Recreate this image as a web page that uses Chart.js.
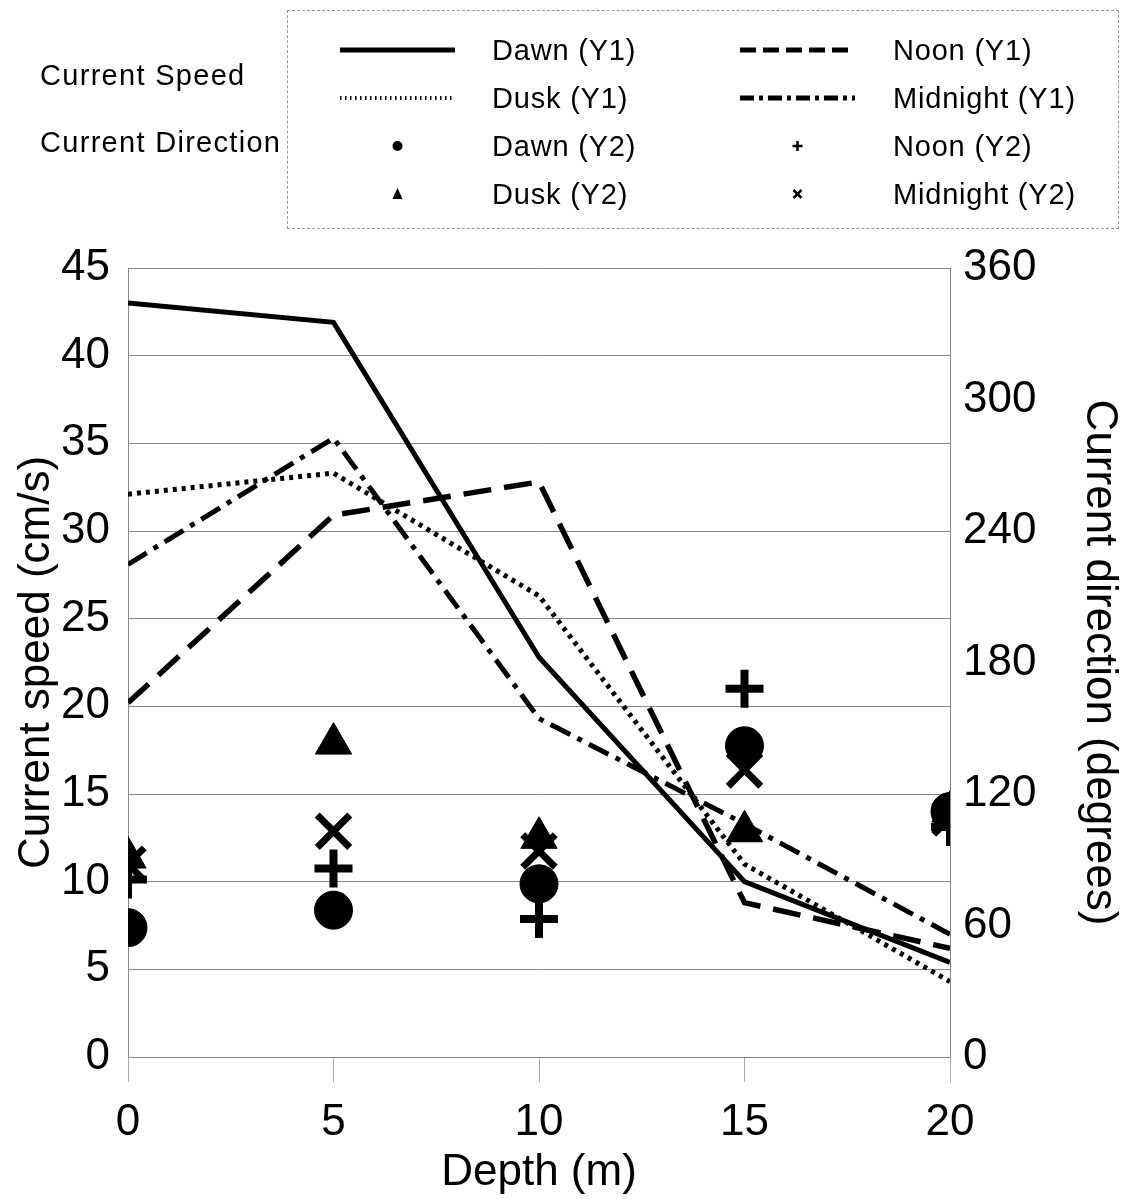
<!DOCTYPE html>
<html>
<head>
<meta charset="utf-8">
<script src="https://cdn.jsdelivr.net/npm/chart.js@4/dist/chart.umd.min.js"></script>
<style>
  body { margin: 0; background: #fff; font-family: "Liberation Sans", Arial, sans-serif; }
  #wrap { position: relative; width: 1130px; height: 1199px; }
  #chart { position: absolute; left: 0; top: 0; }
  .legend-box { position: absolute; left: 287px; top: 10px; width: 832px; height: 219px;
    border: 1px dashed #999; box-sizing: border-box; }
  .grp { position: absolute; left: 40px; font-size: 29px; letter-spacing: 1.3px; color: #000; line-height: 30px; }
  .item { position: absolute; font-size: 29px; letter-spacing: 0.8px; color: #000; line-height: 30px; }
  svg.sample { position: absolute; }
</style>
</head>
<body>
<div id="wrap">
  <canvas id="chart" width="1130" height="1199"></canvas>
  <div class="legend-box"></div>
  <div class="grp" style="top:60px">Current Speed</div>
  <div class="grp" style="top:127px">Current Direction</div>
  <div id="legend"></div>
</div>
<script>
// Current speed / direction by depth
const depths = [0, 5, 10, 15, 20];

// current speed (cm/s), left axis
const dawnSpeed = [43.0, 41.9, 22.8, 10.0, 5.4];
const noonSpeed = [20.2, 30.9, 32.8, 8.8, 6.2];
const duskSpeed = [32.1, 33.3, 26.3, 11.0, 4.3];
const midnightSpeed = [28.1, 35.3, 19.3, 13.3, 7.0];

// current direction (degrees), right axis
const dawnDir = [59, 67, 79, 142, 112];
const noonDir = [81, 86, 63, 168, 105];
const duskDir = [91, 143, 100, 103, 112];
const midnightDir = [88, 103, 94, 131, 109];

const speedTicks = [0, 5, 10, 15, 20, 25, 30, 35, 40, 45];
const dirTicks = [0, 60, 120, 180, 240, 300, 360];

const pts = vals => depths.map((d, i) => ({ x: d, y: vals[i] }));

function lineSet(label, vals, dash, width) {
    return {
        label: label,
        data: pts(vals),
        yAxisID: 'y',
        borderColor: '#000',
        borderWidth: width,
        borderDash: dash,
        pointRadius: 0,
        tension: 0,
        fill: false
    };
}

function markerSet(label, vals, style, radius, bw) {
    return {
        label: label,
        data: pts(vals),
        yAxisID: 'y1',
        showLine: false,
        pointStyle: style,
        pointRadius: radius,
        pointBorderWidth: bw,
        pointBackgroundColor: '#000',
        pointBorderColor: '#000'
    };
}

const font44 = { family: '"Liberation Sans", Arial, sans-serif', size: 44 };

const ctx = document.getElementById('chart').getContext('2d');
new Chart(ctx, {
    type: 'line',
    data: {
        datasets: [
            markerSet('Dawn (Y2)', dawnDir, 'circle', 19, 1),
            markerSet('Dusk (Y2)', duskDir, 'triangle', 21, 1),
            markerSet('Noon (Y2)', noonDir, 'cross', 19, 8),
            markerSet('Midnight (Y2)', midnightDir, 'crossRot', 23, 7),
            lineSet('Dawn (Y1)', dawnSpeed, [], 5),
            lineSet('Dusk (Y1)', duskSpeed, [4, 5], 5),
            lineSet('Noon (Y1)', noonSpeed, [28, 13], 5.5),
            lineSet('Midnight (Y1)', midnightSpeed, [22, 8, 5, 8], 5)
        ]
    },
    options: {
        responsive: false,
        animation: false,
        layout: { padding: { top: 268, left: 0, right: 0, bottom: 0 } },
        plugins: { legend: { display: false }, tooltip: { enabled: false } },
        scales: {
            x: {
                type: 'linear',
                min: 0,
                max: 20,
                afterBuildTicks: s => { s.ticks = depths.map(v => ({ value: v })); },
                afterFit: s => { s.height = 1199 - 1057; },
                grid: { drawOnChartArea: false, drawTicks: true, tickLength: 25, color: '#aaa' },
                border: { display: false },
                ticks: { color: '#000', font: font44, padding: 14, maxRotation: 0 },
                title: { display: true, text: 'Depth (m)', color: '#000', font: font44, padding: { top: 0, bottom: 0 } }
            },
            y: {
                position: 'left',
                min: 0,
                max: 45,
                afterBuildTicks: s => { s.ticks = speedTicks.map(v => ({ value: v })); },
                afterFit: s => { s.width = 128; },
                grid: { color: '#888', drawTicks: false },
                border: { display: true, color: '#888' },
                ticks: { color: '#000', font: font44, padding: 18 },
                title: { display: true, text: 'Current speed (cm/s)', color: '#000', font: font44, padding: { top: 10, bottom: 0 } }
            },
            y1: {
                position: 'right',
                min: 0,
                max: 360,
                afterBuildTicks: s => { s.ticks = dirTicks.map(v => ({ value: v })); },
                afterFit: s => { s.width = 1130 - 950; },
                grid: { drawOnChartArea: false, drawTicks: false },
                border: { display: true, color: '#888' },
                ticks: { color: '#000', font: font44, padding: 13 },
                title: { display: true, text: 'Current direction (degrees)', color: '#000', font: font44, padding: { top: 4, bottom: 0 } }
            }
        }
    }
});

// legend (html + svg samples)
const legendItems = [
    { label: 'Dawn (Y1)', col: 0, row: 0, kind: 'line', dash: '', w: 5 },
    { label: 'Noon (Y1)', col: 1, row: 0, kind: 'line', dash: '16 7', w: 5 },
    { label: 'Dusk (Y1)', col: 0, row: 1, kind: 'line', dash: '1.5 3.5', w: 4 },
    { label: 'Midnight (Y1)', col: 1, row: 1, kind: 'line', dash: '14 5 4 5', w: 5 },
    { label: 'Dawn (Y2)', col: 0, row: 2, kind: 'circle' },
    { label: 'Noon (Y2)', col: 1, row: 2, kind: 'plus' },
    { label: 'Dusk (Y2)', col: 0, row: 3, kind: 'tri' },
    { label: 'Midnight (Y2)', col: 1, row: 3, kind: 'x' }
];
const rowY = [50, 98, 146, 194];
const colX = [340, 740];
const textX = [492, 893];
let html = '';
legendItems.forEach(it => {
    const cy = rowY[it.row];
    const x0 = colX[it.col];
    let shape = '';
    if (it.kind === 'line') {
        shape = `<line x1="0" y1="10" x2="115" y2="10" stroke="#000" stroke-width="${it.w}" stroke-dasharray="${it.dash}"/>`;
    } else if (it.kind === 'circle') {
        shape = '<circle cx="57.5" cy="10" r="5" fill="#000"/>';
    } else if (it.kind === 'tri') {
        shape = '<polygon points="57.5,4 52.5,15 62.5,15" fill="#000"/>';
    } else if (it.kind === 'plus') {
        shape = '<path d="M57.5 5 V15 M52.5 10 H62.5" stroke="#000" stroke-width="2.5"/>';
    } else {
        shape = '<path d="M53.5 6 L61.5 14 M61.5 6 L53.5 14" stroke="#000" stroke-width="2.5"/>';
    }
    html += `<svg class="sample" width="115" height="20" style="left:${x0}px;top:${cy - 10}px">${shape}</svg>`;
    html += `<div class="item" style="left:${textX[it.col]}px;top:${cy - 15}px">${it.label}</div>`;
});
document.getElementById('legend').innerHTML = html;
</script>
</body>
</html>
